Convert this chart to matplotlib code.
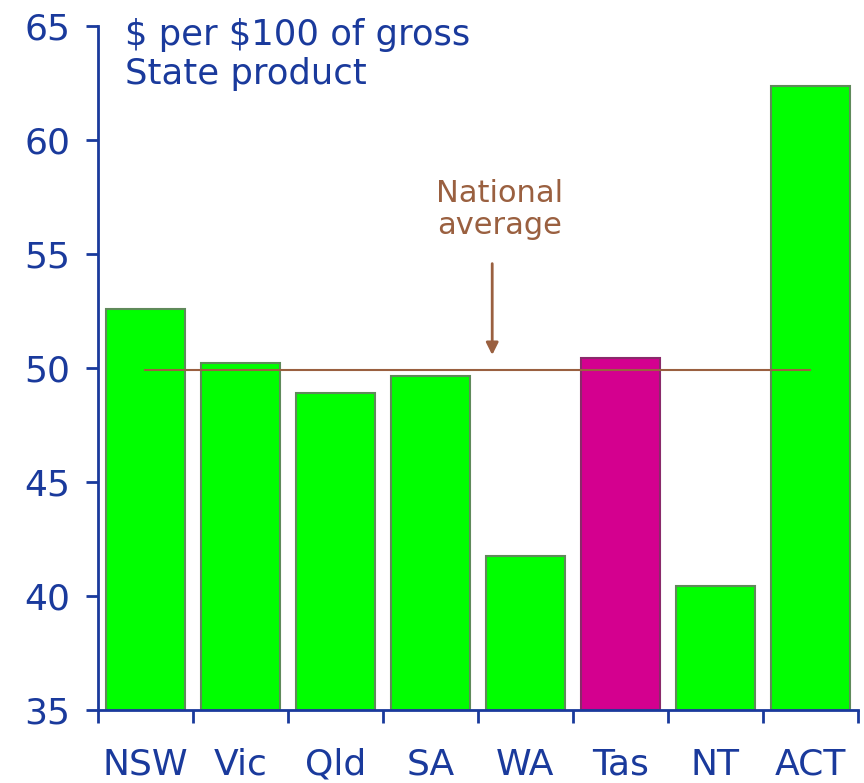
import matplotlib
matplotlib.use("Agg")
import matplotlib.pyplot as plt

states = ["NSW", "Vic", "Qld", "SA", "WA", "Tas", "NT", "ACT"]
values = [52.6, 50.2, 48.9, 49.65, 41.75, 50.45, 40.45, 62.35]
national_avg = 49.9
highlight = "Tas"

blue = "#1a3a9c"
brown = "#9a6040"

fig = plt.figure(figsize=(8.64, 7.83), dpi=100)
ax = fig.add_axes([0.1134, 0.0932, 0.8796, 0.8736])

x = list(range(len(states)))
colors = ["#d4008f" if s == highlight else "#00ff00" for s in states]
edges = ["#8a2a6a" if s == highlight else "#5f8a5a" for s in states]
ax.bar(x, [v - 35 for v in values], bottom=35, width=0.84,
       color=colors, edgecolor=edges, linewidth=1.5, zorder=2)

ax.plot([0, 7], [national_avg, national_avg], color=brown, lw=1.5, zorder=3)
ax.annotate("", xy=(3.65, 50.45), xytext=(3.65, 54.7),
            arrowprops=dict(arrowstyle="-|>", color=brown, lw=2,
                            mutation_scale=18), zorder=3)
ax.text(3.73, 56.95, "National\naverage", color=brown, fontsize=22,
        ha="center", va="center", linespacing=1.15)

ax.text(0.035, 1.012, "\\$ per \\$100 of gross\nState product", transform=ax.transAxes,
        color=blue, fontsize=25.5, ha="left", va="top", linespacing=1.2)

ax.set_xlim(-0.5, 7.5)
ax.set_ylim(35, 65)
ax.set_yticks(range(35, 66, 5))
ax.set_xticks([i - 0.5 for i in range(len(states) + 1)])
ax.set_xticklabels([])
ax.set_xticks(x, minor=True)
ax.set_xticklabels(states, minor=True)
ax.tick_params(axis="x", which="minor", length=0, pad=27, labelsize=26, labelcolor=blue)
ax.tick_params(axis="x", which="major", length=9, width=2, color=blue)
ax.tick_params(axis="y", length=9, width=2, color=blue, labelsize=26, labelcolor=blue, pad=11)

for side in ["top", "right"]:
    ax.spines[side].set_visible(False)
for side in ["left", "bottom"]:
    ax.spines[side].set_color(blue)
    ax.spines[side].set_linewidth(2)

fig.savefig("out.png", dpi=100)
